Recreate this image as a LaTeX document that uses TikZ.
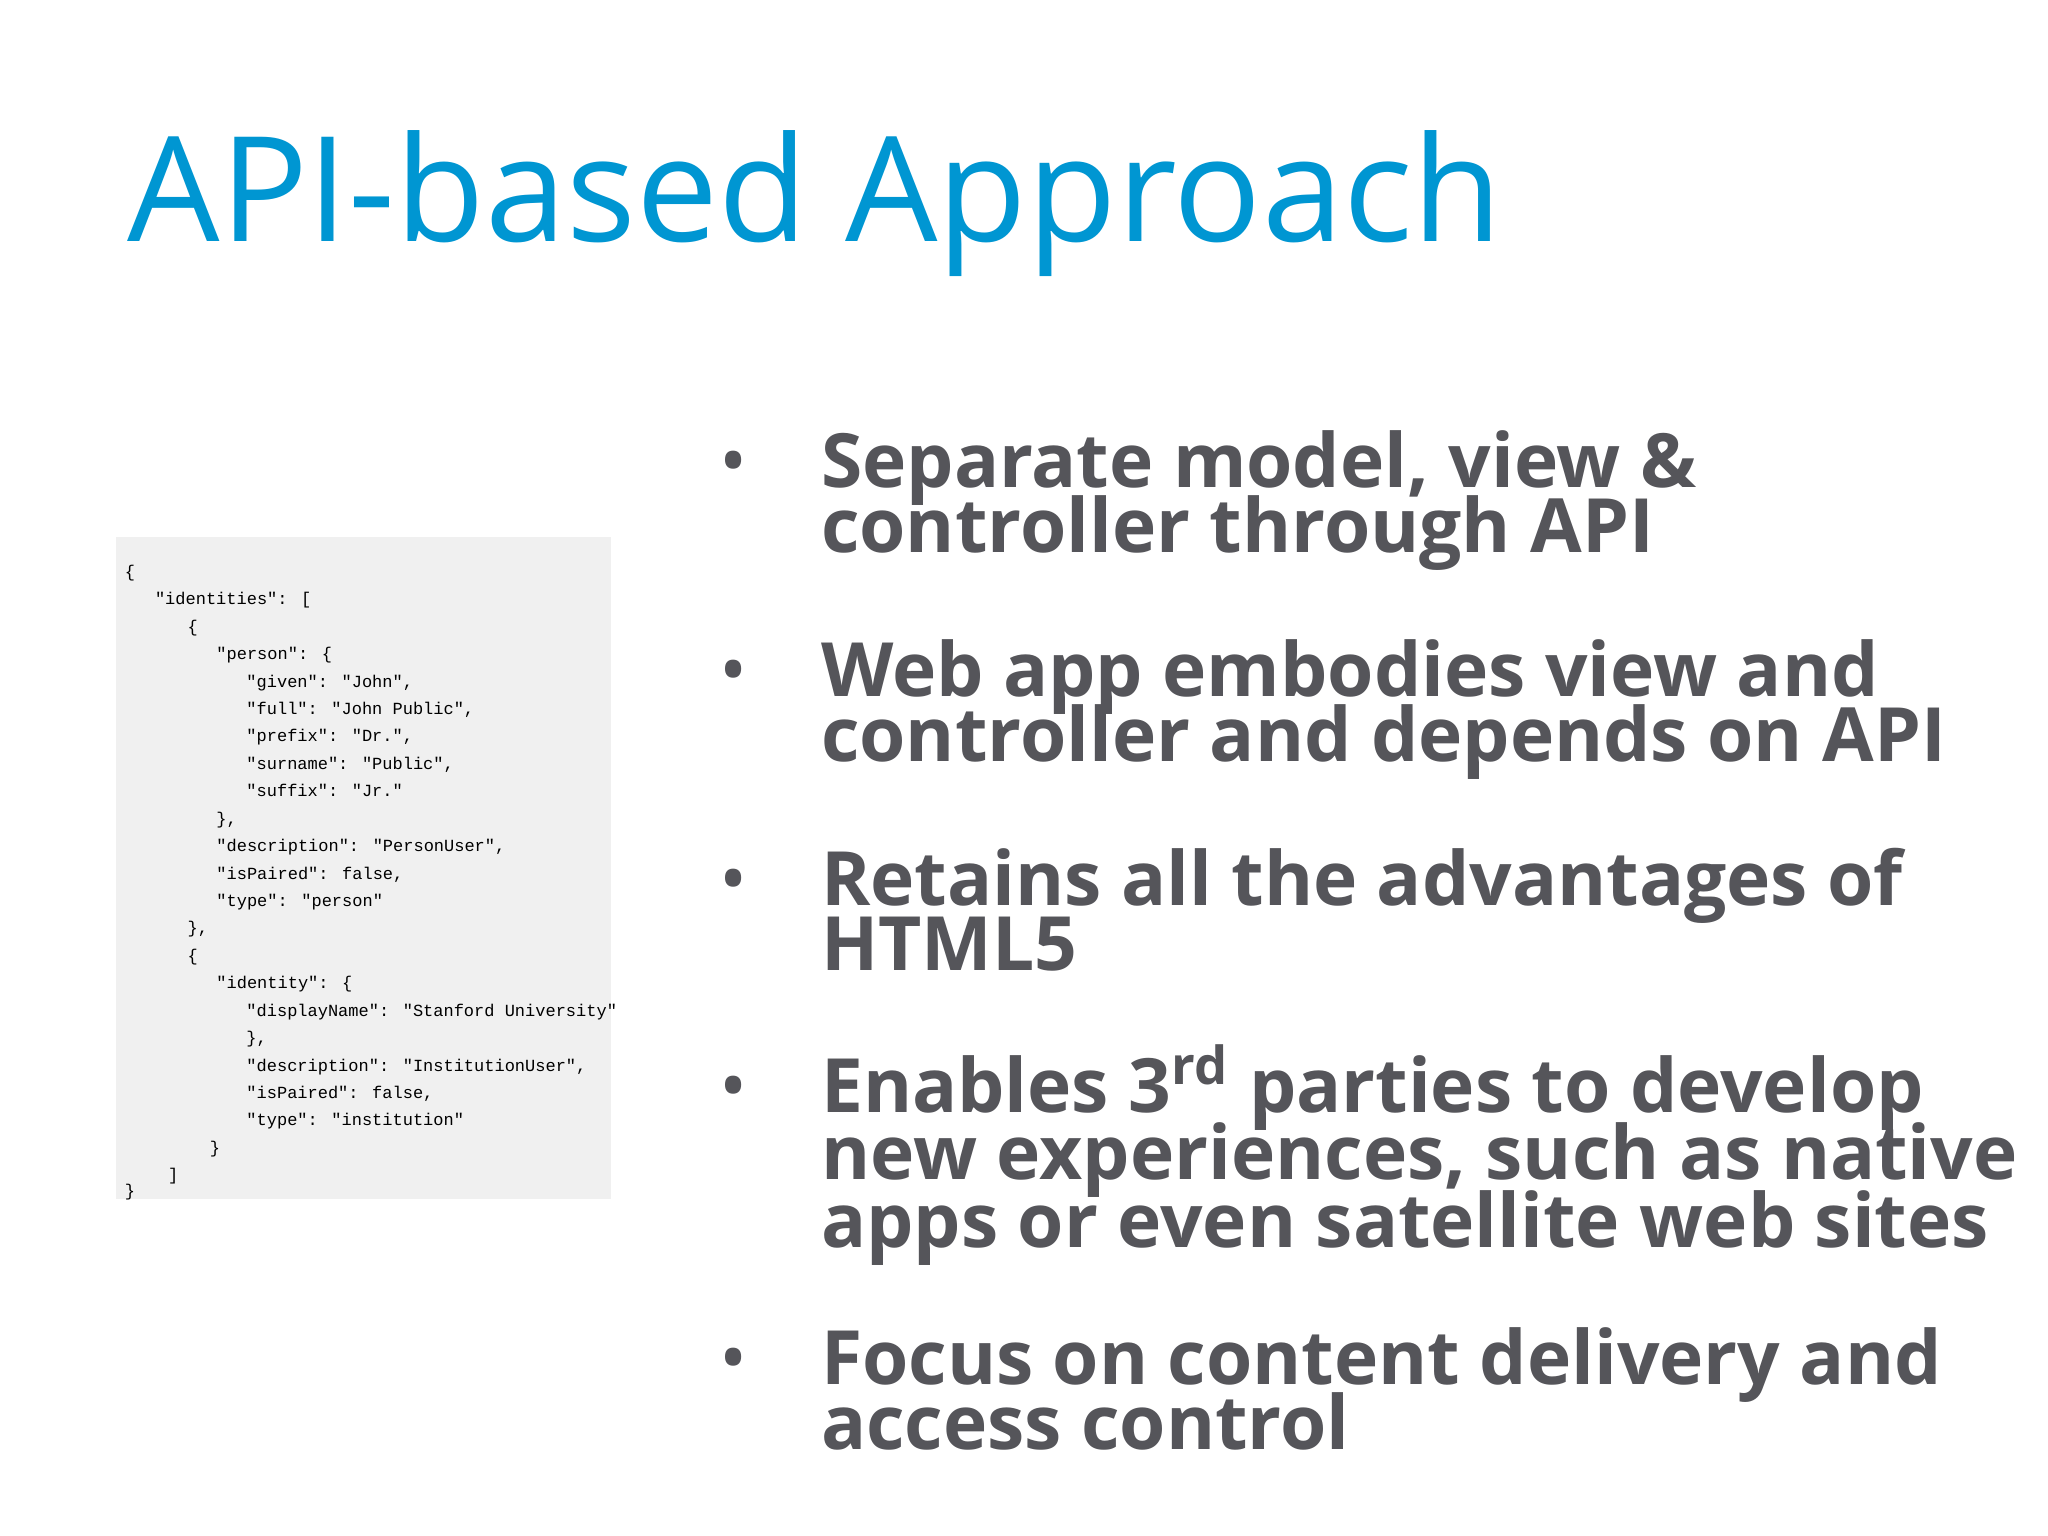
\documentclass[tikz,border=0pt]{standalone}
\usepackage{fontspec}
\setmainfont{Open Sans}
\newfontfamily\codefont{Liberation Mono}
\definecolor{titleblue}{RGB}{0,150,210}
\definecolor{txtgrey}{RGB}{85,85,90}
\definecolor{codebg}{RGB}{240,240,240}
\begin{document}
\begin{tikzpicture}[x=0.01cm,y=-0.01cm,
  title/.style={anchor=base west,inner sep=0,text=titleblue,font=\fontsize{31.8}{32}\selectfont},
  btext/.style={anchor=base west,inner sep=0,text=txtgrey,font=\bfseries\fontsize{16.3}{16}\selectfont},
  bdot/.style={anchor=base west,inner sep=0,text=txtgrey,font=\fontsize{16.3}{16}\selectfont},
  code/.style={anchor=base west,inner sep=0,font=\codefont\fontsize{3.7}{4}\selectfont}]
\useasboundingbox[fill=white] (0,0) rectangle (1568,1176);
\node[title] (t) at (97,185) {API-based Approach};
\fill[codebg] (89,411) rectangle (468,918);
\node[code] (c1) at (95,442) {\{};
\node[code] (c2) at (118,463) {"identities": [};
\node[code] (c3) at (143,484) {\{};
\node[code] (c4) at (165,505) {"person": \{};
\node[code] (c5) at (188,526) {"given": "John",};
\node[code] (c6) at (188,547) {"full": "John Public",};
\node[code] (c7) at (188,568) {"prefix": "Dr.",};
\node[code] (c8) at (188,589) {"surname": "Public",};
\node[code] (c9) at (188,610) {"suffix": "Jr."};
\node[code] (c10) at (165,631) {\},};
\node[code] (c11) at (165,652) {"description": "PersonUser",};
\node[code] (c12) at (165,673) {"isPaired": false,};
\node[code] (c13) at (165,694) {"type": "person"};
\node[code] (c14) at (143,715) {\},};
\node[code] (c15) at (143,736) {\{};
\node[code] (c16) at (165,757) {"identity": \{};
\node[code] (c17) at (188,778) {"displayName": "Stanford University"};
\node[code] (c18) at (188,799) {\},};
\node[code] (c19) at (188,820) {"description": "InstitutionUser",};
\node[code] (c20) at (188,841) {"isPaired": false,};
\node[code] (c21) at (188,862) {"type": "institution"};
\node[code] (c22) at (160,883) {\}};
\node[code] (c23) at (128,904) {]};
\node[code] (c24) at (95,916) {\}};
\node[bdot] (d1) at (550,373) {•};
\node[btext] (b1a) at (628,373) {Separate model, view \&};
\node[btext] (b1b) at (628,423) {controller through API};
\node[bdot] (d2) at (550,533) {•};
\node[btext] (b2a) at (628,533) {Web app embodies view and};
\node[btext] (b2b) at (628,583) {controller and depends on API};
\node[bdot] (d3) at (550,693) {•};
\node[btext] (b3a) at (628,693) {Retains all the advantages of};
\node[btext] (b3b) at (628,743) {HTML5};
\node[bdot] (d4) at (550,852) {•};
\node[btext] (b4a) at (628,852) {Enables 3\textsuperscript{rd} parties to develop};
\node[btext] (b4b) at (628,903) {new experiences, such as native};
\node[btext] (b4c) at (628,955) {apps or even satellite web sites};
\node[bdot] (d5) at (550,1060) {•};
\node[btext] (b5a) at (628,1060) {Focus on content delivery and};
\node[btext] (b5b) at (628,1110) {access control};
\end{tikzpicture}
\end{document}
